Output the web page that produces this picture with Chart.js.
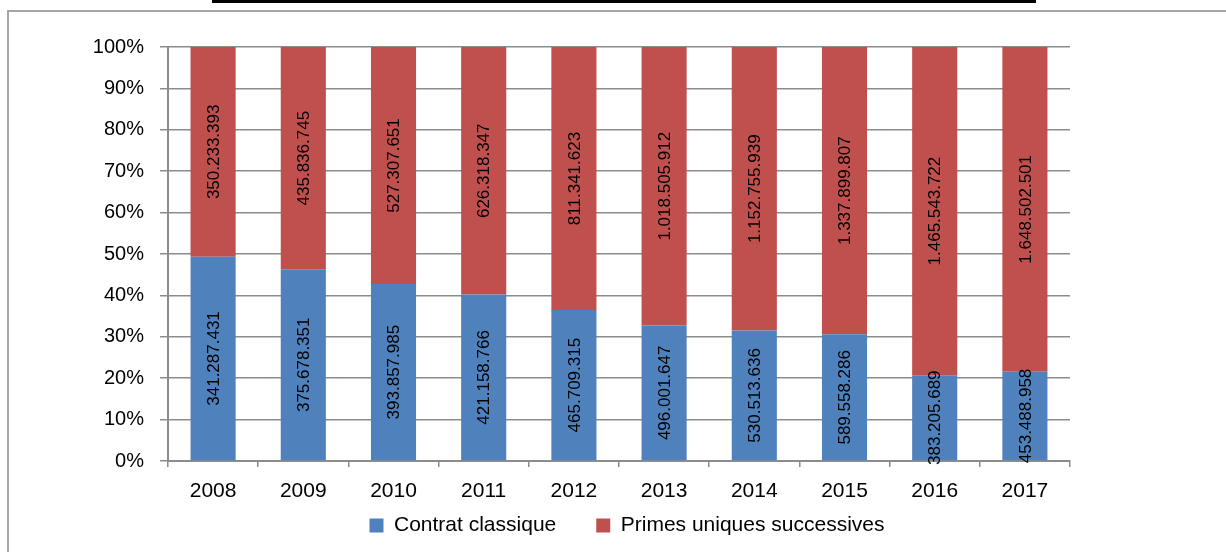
<!DOCTYPE html>
<html>
<head>
<meta charset="utf-8">
<script src="https://cdn.jsdelivr.net/npm/chart.js@4.4.1/dist/chart.umd.min.js"></script>
<style>
  html, body { margin: 0; padding: 0; background: #fff; }
  #wrap { position: relative; width: 1226px; height: 552px; overflow: hidden; }
  #topbar { position: absolute; left: 212px; top: 0; width: 824px; height: 3px; background: #000; }
  #frame { position: absolute; left: 7px; top: 10px; width: 1240px; height: 560px;
           border-top: 2px solid #a6a6a6; border-left: 2px solid #a6a6a6; }
  #box { position: absolute; left: 0; top: 0; width: 1226px; height: 552px; }
</style>
</head>
<body>
<div id="wrap">
  <div id="topbar"></div>
  <div id="frame"></div>
  <div id="box"><canvas id="chart"></canvas></div>
</div>
<script>
/* ─── Data ──────────────────────────────────────────────────────────────── */
const years      = ['2008','2009','2010','2011','2012','2013','2014','2015','2016','2017'];
const classique  = [341287431, 375678351, 393857985, 421158766, 465709315,
                    496001647, 530513636, 589558286, 383205689, 453488958];
const primes     = [350233393, 435836745, 527307651, 626318347, 811341623,
                    1018505912, 1152755939, 1337899807, 1465543722, 1648502501];
const yTicks     = [0, 10, 20, 30, 40, 50, 60, 70, 80, 90, 100];

const BLUE = '#4f81bd';
const RED  = '#c0504d';
const GRID = '#8c8c8c';
const FONT = "'Liberation Sans', Arial, sans-serif";

/* shares of each year's total, for the 100% stack */
const totals   = classique.map((v, i) => v + primes[i]);
const pctClass = classique.map((v, i) => v / totals[i] * 100);
const pctPrim  = primes.map((v, i) => v / totals[i] * 100);

const fmt = v => String(v).replace(/\B(?=(\d{3})+(?!\d))/g, '.');

/* ─── Vertical value labels, centred in each segment ────────────────────── */
const valueLabels = {
  id: 'valueLabels',
  afterDatasetsDraw(chart) {
    const ctx = chart.ctx;
    ctx.save();
    ctx.font = '17px ' + FONT;
    ctx.fillStyle = '#000';
    ctx.textAlign = 'center';
    ctx.textBaseline = 'middle';
    chart.data.datasets.forEach((ds, di) => {
      const meta = chart.getDatasetMeta(di);
      meta.data.forEach((bar, i) => {
        const p = bar.getProps(['x', 'y', 'base'], true);
        ctx.save();
        ctx.translate(p.x, (p.y + p.base) / 2);
        ctx.rotate(-Math.PI / 2);
        ctx.fillText(fmt(ds.raw[i]), 0, 1);
        ctx.restore();
      });
    });
    ctx.restore();
  },
};

/* legend box is taller than the room left for it (label padding also
   pads rows), so pin it under the axis labels, nudged right like the original */
const legendPlace = {
  id: 'legendPlace',
  afterLayout(chart) {
    const L = chart.legend;
    const h = L.height;
    L.top = 475;
    L.bottom = L.top + h;
    L.left += 8;
    L.right += 8;
  },
};

new Chart(document.getElementById('chart'), {
  type: 'bar',
  data: {
    labels: years,
    datasets: [
      { label: 'Contrat classique', data: pctClass, raw: classique,
        backgroundColor: BLUE, categoryPercentage: 1, barPercentage: 0.5 },
      { label: 'Primes uniques successives', data: pctPrim, raw: primes,
        backgroundColor: RED, categoryPercentage: 1, barPercentage: 0.5 },
    ],
  },
  options: {
    responsive: true, maintainAspectRatio: false, animation: false,
    layout: { padding: { left: 0, top: 47, right: 156, bottom: -25 } },
    plugins: {
      tooltip: { enabled: false },
      legend: {
        position: 'bottom', fullSize: false,
        labels: { boxWidth: 14, boxHeight: 14, padding: 40, color: '#000',
                  font: { family: FONT, size: 21 } },
      },
    },
    scales: {
      x: {
        stacked: true,
        grid: { drawOnChartArea: false, color: GRID, lineWidth: 1.5, tickLength: 6 },
        border: { color: GRID, width: 2 },
        ticks: { color: '#000', padding: 12, font: { family: FONT, size: 21 } },
        afterFit: s => { s.height = 45; },
      },
      y: {
        stacked: true, min: 0, max: 100,
        afterBuildTicks: s => { s.ticks = yTicks.map(v => ({ value: v })); },
        grid: { color: GRID, lineWidth: 1.5, tickLength: 8 },
        border: { color: GRID, width: 2 },
        ticks: { color: '#000', padding: 16, font: { family: FONT, size: 20 },
                 callback: v => v + '%' },
        afterFit: s => { s.width = 168; },
      },
    },
  },
  plugins: [valueLabels, legendPlace],
});
</script>
</body>
</html>
